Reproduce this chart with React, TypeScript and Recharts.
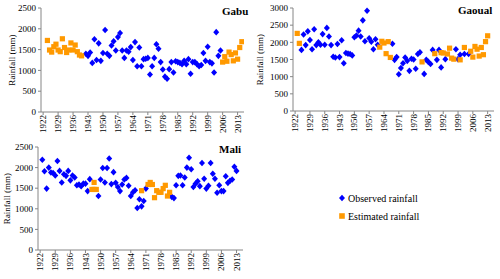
import { ScatterChart, Scatter, XAxis, YAxis, Legend } from 'recharts';

const FONT = '"Liberation Serif", "Times New Roman", serif';
const BLUE = '#0000ff';
const ORANGE = '#ff9900';
const AXIS = '#868686';

// x axis labels every 7 years
const yearTicks = [1922, 1929, 1936, 1943, 1950, 1957, 1964, 1971, 1978, 1985, 1992, 1999, 2006, 2013];
const ticks2500 = [0, 500, 1000, 1500, 2000, 2500];
const ticks3000 = [0, 500, 1000, 1500, 2000, 2500, 3000];

// runs of consecutive years: [first year, values (mm)]
type Run = [number, number[]];

const gabuObserved: Run[] = [
  [1942, [1400, 1350, 1430, 1180, 1750, 1250, 1650, 1230, 1420, 1970, 1400, 1350, 1600, 1700, 1480, 1800,
    1900, 1480, 1300, 1480, 1450, 1560, 1250, 1680, 1100, 1550, 1100, 1270, 1280, 1300, 900, 1100, 1300, 1630,
    1520, 1200, 1020, 850, 800, 1030, 1200, 950, 1220, 1200, 1180, 1150, 1230, 1150, 1270, 920, 1200, 1200,
    1150, 1100, 1130, 1420, 1230, 1570, 1200, 1170, 950, 1920, 1350, 1480]],
];
const gabuEstimated: Run[] = [
  [1924, [1720, 1490, 1440, 1570, 1630, 1490, 1450, 1760, 1550, 1430, 1490, 1660, 1490, 1610, 1450, 1370, 1350]],
  [2006, [1200, 1330, 1220, 1440, 1380, 1230, 1420, 1270, 1550, 1690]],
];

const gaoualObserved: Run[] = [
  [1925, [1780, 2230, 1920, 2320, 2070, 1800, 2380, 1920, 2000, 1930, 2240, 1930, 2420, 2170, 1920, 1580,
    1560, 1950, 1570, 2060, 1390, 1690, 1670, 1660, 1620, 2150, 2200, 2340, 2170, 2640, 2030, 2920, 2120,
    2020, 1800, 2090, 1930]],
  [1968, [1960, 1490, 1570, 1070, 1250, 1390, 1560, 1460, 1170, 1520, 1500, 1230, 1660, 1710]],
  [1983, [1080, 1490, 1430, 1370, 1780]],
  [1989, [1490, 1780, 1270]],
  [1993, [1510]],
  [1998, [1800, 1510, 1640]],
  [2002, [1660]],
  [2004, [1660]],
];
const gaoualEstimated: Run[] = [
  [1923, [2260, 1970]],
  [1962, [1860, 2030, 1980, 1670, 2020, 1560]],
  [1982, [1430]],
  [1988, [1670]],
  [1991, [1700, 1690]],
  [1994, [1660, 1830, 1540, 1510]],
  [2000, [1490]],
  [2002, [1850]],
  [2005, [1740, 1570, 1880, 1800, 1600, 1850, 1640, 2020, 2190]],
];

const maliObserved: Run[] = [
  [1923, [2190, 1910, 1490, 2000, 1880, 1870, 1810, 2160, 1920, 1640, 1840, 1800, 1920, 1690, 1810, 1760,
    1570, 1590, 1550, 1610, 1610, 1430, 1720]],
  [1949, [1310, 1710, 1990, 1640, 1990, 2220, 1600, 1890, 1630, 1530, 1430, 1590, 1710, 1750, 1560, 1310,
    1400, 1450, 1020, 1230, 1060, 1190, 1490]],
  [1983, [1290, 1260]],
  [1985, [1570, 1800, 1810, 1570, 1760, 2000, 2240, 1960, 1530, 1610, 1670, 1550, 2110, 1730, 1490, 1560,
    2110, 1850, 1730, 1390, 1570, 1430, 1430, 1790, 1630, 1680, 1710, 2020, 1920]],
];
const maliEstimated: Run[] = [
  [1946, [1470, 1640, 1470]],
  [1947, [1470]],
  [1969, [1440]],
  [1972, [1590, 1640, 1590, 1270, 1440, 1400, 1400, 1490, 1570, 1310, 1400]],
];

const toPoints = (runs: Run[]) =>
  runs.flatMap(([start, vals]) => vals.map((rain, i) => ({ year: start + i, rain })));

const Diamond = (p: any) => (
  <polygon
    points={`${p.cx},${p.cy - 3.3} ${p.cx + 3},${p.cy} ${p.cx},${p.cy + 3.3} ${p.cx - 3},${p.cy}`}
    fill={BLUE}
  />
);
const Square = (p: any) => <rect x={p.cx - 2.6} y={p.cy - 2.6} width={5.2} height={5.2} fill={ORANGE} />;

const YearTick = ({ x, y, payload }: any) => (
  <text
    x={x}
    y={y}
    transform={`rotate(-90 ${x} ${y})`}
    textAnchor="end"
    dy="0.34em"
    fontSize={9}
    fontFamily={FONT}
    fill="#000"
  >
    {payload.value}
  </text>
);

const rainLabel = (dx: number) => (props: any) => {
  const vb = props.viewBox || { x: 0, y: 0, width: 0, height: 0 };
  const x = vb.x + dx;
  const y = vb.y + vb.height / 2;
  return (
    <text x={x} y={y} transform={`rotate(-90 ${x} ${y})`} textAnchor="middle" fontSize={9} fontFamily={FONT} fill="#000">
      Rainfall (mm)
    </text>
  );
};

// observed (diamond) first, like the original legend
const LegendBox = ({ payload }: any) => {
  const items = [...(payload || [])].sort((a: any, b: any) => (a.type === 'diamond' ? -1 : 0) - (b.type === 'diamond' ? -1 : 0));
  return (
    <div style={{ fontFamily: FONT, fontSize: 10, color: '#000' }}>
      {items.map((entry: any) => (
        <div key={entry.value} style={{ display: 'flex', alignItems: 'center', height: 18 }}>
          <svg width={8} height={8} style={{ marginRight: 2 }}>
            {entry.type === 'diamond' ? (
              <polygon points="4,0.7 7,4 4,7.3 1,4" fill={BLUE} />
            ) : (
              <rect x={1.2} y={1.2} width={5.6} height={5.6} fill={ORANGE} />
            )}
          </svg>
          <span>{entry.value}</span>
        </div>
      ))}
    </div>
  );
};

interface PanelProps {
  observed: Run[];
  estimated: Run[];
  yTicks: number[];
  width: number;
  height: number;
  margin: { top: number; right: number; bottom: number; left: number };
  yWidth: number;
  xHeight: number;
  labelDx: number;
  legend?: boolean;
}

function Panel({ observed, estimated, yTicks, width, height, margin, yWidth, xHeight, labelDx, legend }: PanelProps) {
  const yMax = yTicks[yTicks.length - 1];
  return (
    <ScatterChart width={width} height={height} margin={margin}>
      <XAxis
        dataKey="year"
        type="number"
        domain={[1921, 2016]}
        ticks={yearTicks}
        interval={0}
        tick={<YearTick />}
        tickSize={3}
        tickMargin={0}
        height={xHeight}
        stroke={AXIS}
        allowDataOverflow
      />
      <YAxis
        dataKey="rain"
        type="number"
        domain={[0, yMax]}
        ticks={yTicks}
        interval={0}
        width={yWidth}
        tickSize={3}
        tickMargin={2}
        stroke={AXIS}
        tick={{ fontSize: 9, fontFamily: FONT, fill: '#000' }}
        label={rainLabel(labelDx)}
      />
      <Scatter
        name="Observed rainfall"
        data={toPoints(observed)}
        fill={BLUE}
        legendType="diamond"
        shape={Diamond}
        isAnimationActive={false}
      />
      <Scatter
        name="Estimated rainfall"
        data={toPoints(estimated)}
        fill={ORANGE}
        legendType="square"
        shape={Square}
        isAnimationActive={false}
      />
      {legend && (
        <Legend
          layout="horizontal"
          verticalAlign="middle"
          align="center"
          content={<LegendBox />}
          wrapperStyle={{ left: 338, top: 54, width: 130 }}
        />
      )}
    </ScatterChart>
  );
}

const titleStyle = (left: number, top: number): React.CSSProperties => ({
  position: 'absolute',
  left,
  top,
  fontFamily: FONT,
  fontWeight: 'bold',
  fontSize: 11,
  color: '#000',
  lineHeight: '12px',
});

export default function App() {
  return (
    <div style={{ position: 'absolute', left: 0, top: 0, width: 500, height: 279, background: '#fff', overflow: 'hidden' }}>
      <div style={{ position: 'absolute', left: 0, top: 0 }}>
        <Panel
          observed={gabuObserved}
          estimated={gabuEstimated}
          yTicks={ticks2500}
          width={250}
          height={140}
          margin={{ top: 8, right: 6, bottom: 0, left: 0 }}
          yWidth={41}
          xHeight={28}
          labelDx={15}
        />
      </div>
      <div style={titleStyle(222, 5)}>Gabu</div>

      <div style={{ position: 'absolute', left: 250, top: 0 }}>
        <Panel
          observed={gaoualObserved}
          estimated={gaoualEstimated}
          yTicks={ticks3000}
          width={250}
          height={140}
          margin={{ top: 8, right: 6, bottom: 0, left: 0 }}
          yWidth={43}
          xHeight={29}
          labelDx={13}
        />
      </div>
      <div style={titleStyle(458, 4)}>Gaoual</div>

      <div style={{ position: 'absolute', left: 0, top: 135 }}>
        <Panel
          observed={maliObserved}
          estimated={maliEstimated}
          yTicks={ticks2500}
          width={500}
          height={144}
          margin={{ top: 12, right: 257, bottom: 0, left: 0 }}
          yWidth={38}
          xHeight={29}
          labelDx={10}
          legend
        />
      </div>
      <div style={titleStyle(219, 143)}>Mali</div>
    </div>
  );
}
